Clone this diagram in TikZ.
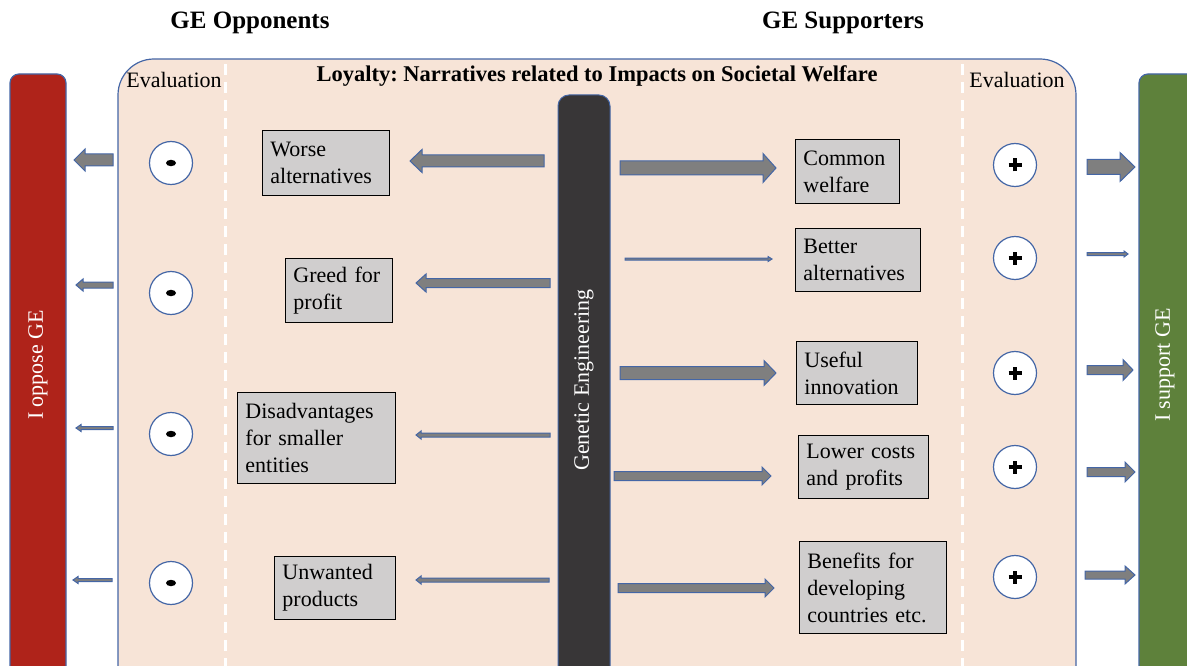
\documentclass[tikz,border=0pt]{standalone}
\usepackage{fontspec}
\setmainfont{Liberation Serif}
\frenchspacing
\definecolor{edgeblue}{HTML}{4466A6}
\definecolor{panelbeige}{HTML}{F7E4D7}
\definecolor{boxgray}{HTML}{D0CECE}
\definecolor{arrowgray}{HTML}{7F7F7F}
\definecolor{opposered}{HTML}{AF231A}
\definecolor{supportgreen}{HTML}{5E813B}
\definecolor{gebar}{HTML}{383637}

\tikzset{
  panel/.style={draw=edgeblue, line width=1.2pt, fill=panelbeige},
  sidebar/.style={draw=edgeblue, line width=1.2pt},
  divider/.style={draw=white, line width=3pt, dash pattern=on 11pt off 7pt},
  narrative/.style={draw=black, line width=0.9pt, fill=boxgray, anchor=north west,
    align=left, inner xsep=8pt, inner ysep=0pt, font=\fontsize{22}{27}\selectfont},
  evalmark/.style={circle, draw=edgeblue, line width=1.2pt, fill=white, minimum size=43pt, inner sep=0pt},
  blockarrow/.style={draw=edgeblue, line width=1pt, fill=arrowgray, line join=miter},
  heading/.style={font=\fontsize{25}{30}\selectfont\bfseries},
  label/.style={font=\fontsize{22}{27}\selectfont},
  vertlabel/.style={font=\fontsize{22}{27}\selectfont, text=white, rotate=90}
}

% block arrow: tail x, tip x, y, shaft thickness, head thickness, head length
\newcommand\blockarr[6]{%
  \pgfmathsetmacro\bneck{#2-(#6)*sign(#2-#1)}%
  \filldraw[blockarrow] (#1,{#3-(#4)/2}) -- (\bneck,{#3-(#4)/2}) -- (\bneck,{#3-(#5)/2})
    -- (#2,#3) -- (\bneck,{#3+(#5)/2}) -- (\bneck,{#3+(#4)/2}) -- (#1,{#3+(#4)/2}) -- cycle;}

\begin{document}
\begin{tikzpicture}[x=1pt, y=-1pt]
\useasboundingbox (0,0) rectangle (1187,666);
\clip (0,0) rectangle (1187,666);

% side bars
\filldraw[sidebar, fill=opposered, rounded corners=9pt] (10,74) rectangle (66,720);
\filldraw[sidebar, fill=supportgreen, rounded corners=9pt] (1139,74) rectangle (1220,720);
\node[vertlabel] (oppose) at (38,365) {I oppose GE};
\node[vertlabel] (support) at (1165,365) {I support GE};

% main panel
\filldraw[panel, rounded corners=36pt] (118,59) rectangle (1076,740);
\draw[divider] (225,64) -- (225,666);
\draw[divider] (962,64) -- (962,666);

% central bar
\filldraw[draw=edgeblue, line width=1pt, fill=gebar, rounded corners=11pt] (558,95) rectangle (610,720);
\node[vertlabel] (ge) at (584,380) {Genetic Engineering};

% headings
\node[heading] (opp) at (250,23) {GE Opponents};
\node[heading] (sup) at (843,23) {GE Supporters};
\node[label] (evalL) at (174,80) {Evaluation};
\node[label] (evalR) at (1017,80) {Evaluation};
\node[label, font=\fontsize{22.5}{27}\selectfont\bfseries] (loyal) at (597,76) {Loyalty: Narratives related to Impacts on Societal Welfare};

% narratives of opponents
\node[narrative, text width=111pt, minimum height=65pt] (n1) at (262,130) {Worse\\alternatives};
\node[narrative, text width=91pt, minimum height=64pt] (n2) at (285,258) {Greed for\\profit};
\node[narrative, text width=142pt, minimum height=91pt] (n3) at (237,392) {Disadvantages\\for smaller\\entities};
\node[narrative, text width=105pt, minimum height=63pt] (n4) at (274,556) {Unwanted\\products};

% narratives of supporters
\node[narrative, text width=88pt, minimum height=64pt] (p1) at (795,139) {Common\\welfare};
\node[narrative, text width=109pt, minimum height=63pt] (p2) at (795,228) {Better\\alternatives};
\node[narrative, text width=105pt, minimum height=63pt] (p3) at (796,341) {Useful\\innovation};
\node[narrative, text width=114pt, minimum height=63pt] (p4) at (798,435) {Lower costs\\and profits};
\node[narrative, text width=131pt, minimum height=92pt] (p5) at (799,541) {Benefits for\\developing\\countries etc.};

% evaluation marks, negative
\foreach \y [count=\i] in {163,293,434,583}{
  \node[evalmark] (m\i) at (171,\y) {};
  \fill (m\i.center) ellipse [x radius=5pt, y radius=3.2pt];
}
% evaluation marks, positive
\foreach \y [count=\i] in {165,258,373,467,577}{
  \node[evalmark] (q\i) at (1015,\y) {};
  \draw[line width=4pt] ([xshift=-6.5pt]q\i.center) -- ([xshift=6.5pt]q\i.center);
  \draw[line width=4pt] ([yshift=-6.5pt]q\i.center) -- ([yshift=6.5pt]q\i.center);
}

% arrows from the central bar to the opponents' narratives
\blockarr{544}{410}{161}{12}{23}{12}
\blockarr{550}{416}{283}{9}{18}{10}
\blockarr{550}{416}{435}{4}{8}{5}
\blockarr{549}{416}{580}{4}{8}{5}

% arrows from the central bar to the supporters' narratives
\blockarr{620}{776}{168}{14}{29}{13}
\blockarr{625}{772}{259}{2}{5}{4}
\blockarr{620}{776}{373}{13}{25}{12}
\blockarr{614}{771}{476}{9}{18}{9}
\blockarr{618}{774}{588}{9}{18}{9}

% arrows towards the opposing stance
\blockarr{113}{74}{160}{12}{22}{11}
\blockarr{113}{76}{285}{6}{12}{7}
\blockarr{113}{76}{428}{3}{7}{5}
\blockarr{112}{73}{580}{3}{7}{5}

% arrows towards the supporting stance
\blockarr{1087}{1135}{167}{15}{29}{15}
\blockarr{1087}{1128}{254}{3}{6}{4}
\blockarr{1087}{1133}{370}{9}{21}{10}
\blockarr{1087}{1135}{472}{9}{20}{10}
\blockarr{1085}{1135}{575}{8}{18}{10}
\end{tikzpicture}
\end{document}
